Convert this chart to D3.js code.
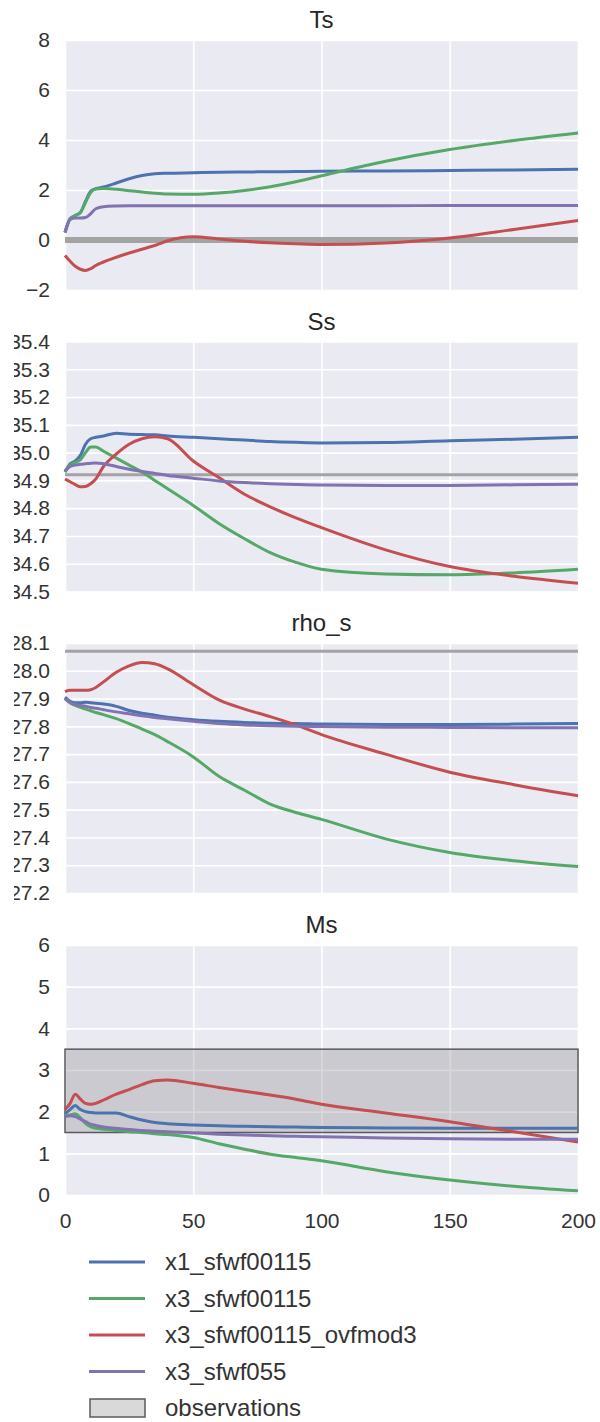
<html>
<head>
<meta charset="utf-8">
<title>Ts Ss rho_s Ms</title>
<style type="text/css">
  body{
    margin: 0;
    background: white;
    font-family: "Liberation Sans", Arial, sans-serif;
  }
  .tick text{
    fill: #333;
  }
</style>
</head>
<body>
<script src="https://d3js.org/d3.v7.min.js"></script>
<div id="graph_item"></div>
<script>

// model years
var years = [0,2,4,6,8,10,12,15,20,25,30,35,40,50,60,70,80,90,100,125,150,175,200];

var series_names = ["x1_sfwf00115","x3_sfwf00115","x3_sfwf00115_ovfmod3","x3_sfwf055"];
var series_colors = ["#4c72b0","#55a868","#c44e52","#8172b2"];

// Ts
var ts_x1  = [0.3,0.85,0.98,1.1,1.55,1.95,2.05,2.12,2.28,2.45,2.58,2.65,2.67,2.69,2.71,2.72,2.73,2.74,2.75,2.76,2.78,2.8,2.83];
var ts_x3  = [0.3,0.85,0.98,1.1,1.5,1.9,2.04,2.06,2.03,1.97,1.92,1.87,1.84,1.83,1.88,1.98,2.13,2.33,2.57,3.15,3.62,3.98,4.28];
var ts_ovf = [-0.62,-0.85,-1.05,-1.17,-1.22,-1.15,-1.02,-0.88,-0.69,-0.52,-0.37,-0.22,-0.03,0.13,0.04,-0.05,-0.11,-0.15,-0.18,-0.12,0.08,0.42,0.78];
var ts_055 = [0.3,0.82,0.88,0.88,0.9,1.05,1.25,1.33,1.36,1.37,1.37,1.37,1.37,1.37,1.37,1.37,1.37,1.37,1.37,1.37,1.38,1.38,1.38];

// Ss
var ss_x1  = [34.93,34.96,34.97,34.99,35.03,35.05,35.055,35.06,35.07,35.066,35.065,35.064,35.06,35.055,35.05,35.045,35.04,35.037,35.035,35.036,35.043,35.048,35.055];
var ss_x3  = [34.93,34.955,34.965,34.975,35.0,35.02,35.02,35.005,34.98,34.955,34.93,34.9,34.87,34.81,34.745,34.69,34.64,34.605,34.58,34.563,34.56,34.567,34.58];
var ss_ovf = [34.905,34.895,34.885,34.877,34.878,34.888,34.905,34.95,34.995,35.03,35.05,35.057,35.05,34.97,34.91,34.85,34.805,34.765,34.73,34.65,34.59,34.555,34.53];
var ss_055 = [34.935,34.95,34.955,34.958,34.96,34.962,34.963,34.96,34.95,34.94,34.932,34.925,34.918,34.908,34.898,34.892,34.888,34.885,34.883,34.882,34.882,34.884,34.886];

// rho_s
var rho_x1  = [27.905,27.89,27.885,27.885,27.887,27.885,27.883,27.88,27.872,27.857,27.847,27.84,27.833,27.824,27.818,27.814,27.811,27.81,27.808,27.807,27.807,27.808,27.81];
var rho_x3  = [27.9,27.885,27.875,27.868,27.862,27.856,27.85,27.842,27.828,27.81,27.79,27.77,27.745,27.69,27.62,27.57,27.52,27.49,27.465,27.395,27.346,27.316,27.295];
var rho_ovf = [27.925,27.93,27.93,27.93,27.93,27.932,27.94,27.96,27.995,28.018,28.03,28.025,28.007,27.95,27.895,27.862,27.835,27.805,27.77,27.7,27.635,27.59,27.55];
var rho_055 = [27.9,27.885,27.878,27.875,27.872,27.868,27.865,27.86,27.852,27.845,27.838,27.832,27.827,27.818,27.81,27.805,27.802,27.8,27.799,27.797,27.796,27.795,27.795];

// Ms
var ms_x1  = [1.95,2.05,2.15,2.05,2.0,1.98,1.97,1.97,1.97,1.88,1.8,1.74,1.71,1.68,1.66,1.65,1.64,1.63,1.62,1.61,1.6,1.6,1.6];
var ms_x3  = [1.9,1.92,1.95,1.85,1.72,1.64,1.6,1.58,1.55,1.52,1.5,1.47,1.45,1.38,1.23,1.1,0.98,0.9,0.82,0.56,0.36,0.21,0.1];
var ms_ovf = [2.05,2.2,2.42,2.3,2.2,2.18,2.2,2.28,2.42,2.53,2.65,2.74,2.76,2.68,2.58,2.49,2.4,2.3,2.18,1.97,1.76,1.52,1.27];
var ms_055 = [1.88,1.9,1.88,1.82,1.76,1.7,1.67,1.63,1.6,1.57,1.55,1.53,1.52,1.49,1.46,1.44,1.42,1.41,1.4,1.37,1.35,1.34,1.34];

// observations
var obs_ts = 0;
var obs_ss = 34.92;
var obs_rho = 28.07;
var obs_ms = [1.5, 3.5];

// axes
var x_ticks = [0,50,100,150,200];
var ts_ticks = [-2,0,2,4,6,8];
var ss_ticks = [34.5,34.6,34.7,34.8,34.9,35.0,35.1,35.2,35.3,35.4];
var rho_ticks = [27.2,27.3,27.4,27.5,27.6,27.7,27.8,27.9,28.0,28.1];
var ms_ticks = [0,1,2,3,4,5,6];

var panels = [
  {title: "Ts",    domain: [-2,8],       ticks: ts_ticks,  fmt: d3.format("d"),   data: [ts_x1,ts_x3,ts_ovf,ts_055],     obs: obs_ts,  obsWidth: 6},
  {title: "Ss",    domain: [34.5,35.4],  ticks: ss_ticks,  fmt: d3.format(".1f"), data: [ss_x1,ss_x3,ss_ovf,ss_055],     obs: obs_ss,  obsWidth: 3},
  {title: "rho_s", domain: [27.2,28.1],  ticks: rho_ticks, fmt: d3.format(".1f"), data: [rho_x1,rho_x3,rho_ovf,rho_055], obs: obs_rho, obsWidth: 3},
  {title: "Ms",    domain: [0,6],        ticks: ms_ticks,  fmt: d3.format("d"),   data: [ms_x1,ms_x3,ms_ovf,ms_055],     obs: obs_ms,  obsWidth: 0}
];

var pagewidth = 600, pageheight = 1422;
var margin = {left: 65, right: 22};
var width = pagewidth - margin.left - margin.right,
    height = 250;
var panel_tops = [40, 341.5, 643, 945];

var svg_root = d3.select("#graph_item")
  .append("svg")
    .attr("width", pagewidth)
    .attr("height", pageheight);

// the source picture is cropped on the left
svg_root.append("clipPath").attr("id", "crop")
  .append("rect").attr("x", 14).attr("y", 0).attr("width", pagewidth).attr("height", pageheight);

var svg = svg_root.append("g").attr("clip-path", "url(#crop)");

var x = d3.scaleLinear().domain([0, 200]).range([0, width]);

panels.forEach(function(p, pi){
  var g = svg.append("g")
    .attr("transform", "translate(" + margin.left + "," + panel_tops[pi] + ")");

  var y = d3.scaleLinear().domain(p.domain).range([height, 0]);

  g.append("rect")
    .attr("width", width)
    .attr("height", height)
    .attr("fill", "#eaeaf2");

  // grid
  g.append("g")
    .call(d3.axisLeft(y).tickValues(p.ticks).tickSize(-width).tickFormat(""))
    .call(g => g.select(".domain").remove())
    .call(g => g.selectAll("line").attr("stroke", "white").attr("stroke-width", 1.6));
  g.append("g")
    .attr("transform", "translate(0," + height + ")")
    .call(d3.axisBottom(x).tickValues(x_ticks).tickSize(-height).tickFormat(""))
    .call(g => g.select(".domain").remove())
    .call(g => g.selectAll("line").attr("stroke", "white").attr("stroke-width", 1.6));

  // y labels
  g.append("g")
    .call(d3.axisLeft(y).tickValues(p.ticks).tickFormat(p.fmt).tickSize(0).tickPadding(15))
    .call(g => g.select(".domain").remove())
    .call(g => g.selectAll("text")
        .style("font-size", "21px")
        .style("font-family", "'Liberation Sans', Arial, sans-serif"));

  // observations
  if (Array.isArray(p.obs)) {
    g.append("rect")
      .attr("x", 0)
      .attr("y", y(p.obs[1]))
      .attr("width", width)
      .attr("height", y(p.obs[0]) - y(p.obs[1]))
      .attr("fill", "gray")
      .attr("fill-opacity", 0.3)
      .attr("stroke", "#5a5a5a")
      .attr("stroke-width", 1.5);
  } else {
    g.append("line")
      .attr("x1", 0).attr("x2", width)
      .attr("y1", y(p.obs)).attr("y2", y(p.obs))
      .attr("stroke", "#a3a3a3")
      .attr("stroke-width", p.obsWidth);
  }

  var line = d3.line()
    .x(function(d, i){ return x(years[i]); })
    .y(function(d){ return y(d); })
    .curve(d3.curveMonotoneX);

  g.selectAll(".series")
    .data(p.data)
    .join("path")
      .attr("class", "series")
      .attr("fill", "none")
      .attr("stroke", function(d, i){ return series_colors[i]; })
      .attr("stroke-width", 3)
      .attr("stroke-linejoin", "round")
      .attr("d", line);

  g.append("text")
    .attr("x", width / 2)
    .attr("y", -12)
    .attr("text-anchor", "middle")
    .style("font-size", "24px")
    .style("fill", "#262626")
    .text(p.title);

  if (pi == panels.length - 1) {
    g.append("g")
      .attr("transform", "translate(0," + height + ")")
      .call(d3.axisBottom(x).tickValues(x_ticks).tickSize(0).tickPadding(18))
      .call(g => g.select(".domain").remove())
      .call(g => g.selectAll("text")
          .style("font-size", "21px")
          .style("font-family", "'Liberation Sans', Arial, sans-serif"));
  }
});

// legend
var legend_items = series_names.concat(["observations"]);
var legend = svg.append("g").attr("transform", "translate(89,1262)");
var rows = legend.selectAll(".legrow")
  .data(legend_items)
  .join("g")
    .attr("class", "legrow")
    .attr("transform", function(d, i){ return "translate(0," + (i * 36.5) + ")"; });

rows.each(function(d, i){
  var r = d3.select(this);
  if (i < series_names.length) {
    r.append("line")
      .attr("x1", 0).attr("x2", 56)
      .attr("stroke", series_colors[i])
      .attr("stroke-width", 3.2);
  } else {
    r.append("rect")
      .attr("x", 1).attr("y", -9)
      .attr("width", 55).attr("height", 18)
      .attr("fill", "#d9d9d9")
      .attr("stroke", "#5a5a5a")
      .attr("stroke-width", 1.5);
  }
  r.append("text")
    .attr("x", 76)
    .attr("dy", "0.35em")
    .style("font-size", "24px")
    .style("fill", "#333")
    .text(d);
});

</script>
</body>
</html>
